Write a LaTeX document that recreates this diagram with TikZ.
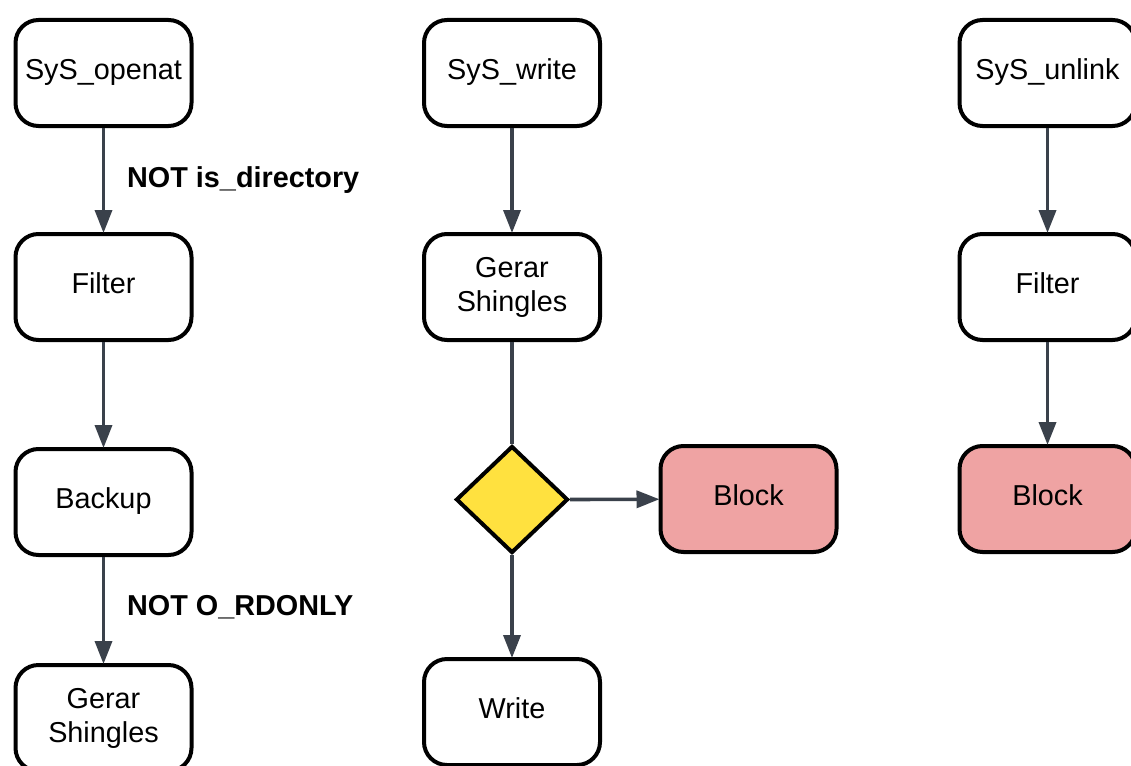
\documentclass[tikz,border=0pt]{standalone}
\usepackage{fontspec}
\setmainfont{Liberation Sans}
\usetikzlibrary{arrows.meta,shapes.geometric}

\definecolor{edgegray}{HTML}{3A414B}
\definecolor{blockred}{HTML}{EFA3A3}
\definecolor{decyellow}{HTML}{FFE13F}

\tikzset{
  box/.style={draw=black, line width=4pt, rounded corners=23pt, fill=white,
    minimum width=176pt, minimum height=106pt, inner sep=0pt, align=center,
    font=\fontsize{28.8}{34}\selectfont},
  oneline/.style={box, text height=21pt, text depth=8.6pt},
  blockbox/.style={oneline, fill=blockred},
  decision/.style={diamond, draw=black, line width=4pt, fill=decyellow,
    minimum width=112pt, minimum height=107pt, inner sep=0pt},
  flow/.style={draw=edgegray, line width=3.6pt},
  arr/.style={flow, -{Triangle[length=23pt,width=17pt]}, shorten >=-1pt},
  cond/.style={anchor=base west, inner sep=0pt, font=\fontsize{28.8}{34}\selectfont\bfseries}
}

\begin{document}
\begin{tikzpicture}[x=1pt,y=-1pt]
  \useasboundingbox (0,0) rectangle (1131,765);

  % left column: openat path
  \node[oneline] (openat)  at (103.5,73)  {SyS\_openat};
  \node[oneline] (filterA) at (103.5,287) {Filter};
  \node[oneline] (backup)  at (103.5,502) {Backup};
  \node[box]     (shingA)  at (103.5,718) {Gerar\\Shingles};

  % middle column: write path
  \node[oneline]  (write)   at (512,73)    {SyS\_write};
  \node[box]      (shingB)  at (512,287)   {Gerar\\Shingles};
  \node[decision] (check)   at (512,499.5) {};
  \node[blockbox] (blockB)  at (748.5,499) {Block};
  \node[oneline]  (doWrite) at (512,712)   {Write};

  % right column: unlink path
  \node[oneline]  (unlink)  at (1047.5,73)  {SyS\_unlink};
  \node[oneline]  (filterC) at (1047.5,287) {Filter};
  \node[blockbox] (blockC)  at (1047.5,499) {Block};

  % connectors
  \draw[arr] (openat) -- (filterA);
  \draw[arr] (filterA) -- (backup);
  \draw[arr] (backup) -- (shingA);

  \draw[arr]  (write) -- (shingB);
  \draw[flow] (shingB) -- (check.north);
  \draw[arr]  (check.east) -- (blockB);
  \draw[arr]  (check.south) -- (doWrite);

  \draw[arr] (unlink) -- (filterC);
  \draw[arr] (filterC) -- (blockC);

  % edge conditions
  \node[cond] (condDir) at (127,187) {NOT is\_directory};
  \node[cond] (condRd)  at (127,615) {NOT O\_RDONLY};
\end{tikzpicture}
\end{document}
